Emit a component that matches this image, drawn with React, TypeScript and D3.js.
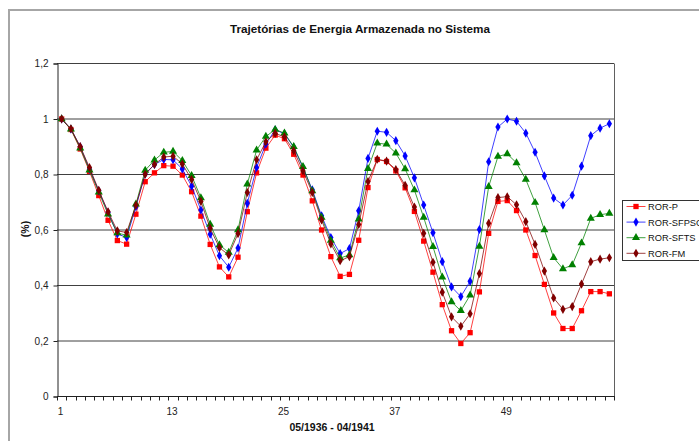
import React, { useRef, useEffect } from "react";
import * as d3 from "d3";

// monthly points 05/1936 - 04/1941
const months = d3.range(1, 61);
const xTickLabels = [1, 13, 25, 37, 49];
const yTicks = [0, 0.2, 0.4, 0.6, 0.8, 1, 1.2];

const rorP = [
  1.0, 0.962, 0.892, 0.811, 0.724, 0.635, 0.562, 0.549, 0.657, 0.774,
  0.806, 0.832, 0.83, 0.798, 0.738, 0.65, 0.548, 0.467, 0.431, 0.502,
  0.666, 0.806, 0.895, 0.942, 0.929, 0.873, 0.798, 0.705, 0.6, 0.504,
  0.433, 0.44, 0.563, 0.753, 0.854, 0.847, 0.813, 0.752, 0.667, 0.56,
  0.448, 0.331, 0.237, 0.191, 0.23, 0.377, 0.588, 0.703, 0.706, 0.67,
  0.6, 0.508, 0.404, 0.301, 0.245, 0.245, 0.309, 0.378, 0.378, 0.37,
];
const rorSfpso = [
  1.0, 0.964, 0.9, 0.819, 0.741, 0.663, 0.586, 0.573, 0.684, 0.802,
  0.836, 0.854, 0.853, 0.82, 0.758, 0.672, 0.585, 0.507, 0.466, 0.535,
  0.696, 0.825, 0.91, 0.961, 0.947, 0.898, 0.825, 0.745, 0.651, 0.573,
  0.515, 0.533, 0.669, 0.858, 0.956, 0.952, 0.922, 0.867, 0.788, 0.69,
  0.59, 0.486, 0.395, 0.36, 0.415, 0.602, 0.846, 0.971, 1.0, 0.992,
  0.949, 0.88, 0.795, 0.715, 0.69, 0.725, 0.83, 0.94, 0.967, 0.983,
];
const rorSfts = [
  1.0, 0.963, 0.895, 0.816, 0.736, 0.657, 0.589, 0.581, 0.693, 0.815,
  0.852, 0.88, 0.883, 0.85, 0.796, 0.716, 0.62, 0.546, 0.519, 0.6,
  0.765, 0.888, 0.937, 0.962, 0.949, 0.9, 0.828, 0.741, 0.645, 0.562,
  0.499, 0.51, 0.639, 0.821, 0.913, 0.909, 0.877, 0.82, 0.744, 0.645,
  0.54, 0.43, 0.341, 0.309, 0.365, 0.541, 0.756, 0.865, 0.874, 0.842,
  0.782, 0.699, 0.6, 0.5, 0.46, 0.474, 0.553, 0.642, 0.655, 0.66,
];
const rorFm = [
  1.0, 0.965, 0.901, 0.825, 0.743, 0.666, 0.597, 0.591, 0.689, 0.801,
  0.836, 0.863, 0.866, 0.838, 0.782, 0.703, 0.606, 0.536, 0.51, 0.587,
  0.735, 0.853, 0.918, 0.948, 0.936, 0.886, 0.813, 0.735, 0.636, 0.55,
  0.489, 0.504, 0.62, 0.775, 0.855, 0.848, 0.818, 0.761, 0.683, 0.588,
  0.484, 0.376, 0.287, 0.253, 0.298, 0.443, 0.624, 0.717, 0.72, 0.691,
  0.63, 0.548, 0.452, 0.355, 0.314, 0.324, 0.405, 0.486, 0.495, 0.5,
];

const seriesNames = ["ROR-P", "ROR-SFPSO", "ROR-SFTS", "ROR-FM"];
const seriesColors = ["#ff0000", "#0000ff", "#008000", "#800000"];
const seriesMarkers = ["square", "diamond", "triangle", "diamond"];

const markerSymbol = (kind: string) => {
  if (kind === "square") return d3.symbol(d3.symbolSquare, 28)();
  if (kind === "triangle") return d3.symbol(d3.symbolTriangle, 28)();
  return d3.symbol(d3.symbolDiamond, 24)();
};

const App = () => {
  const chartRef = useRef<HTMLDivElement>(null);

  useEffect(() => {
    document.body.style.margin = "0";
    const width = 699;
    const height = 441;
    const plot = { left: 57, right: 614, top: 63.5, bottom: 396.5 };
    const font = "'Liberation Sans', Arial, sans-serif";
    const values = [rorP, rorSfpso, rorSfts, rorFm];

    const svg = d3
      .select(chartRef.current)
      .append("svg")
      .attr("width", width)
      .attr("height", height)
      .style("display", "block")
      .style("font-family", font);

    svg.append("rect").attr("width", width).attr("height", height).attr("fill", "#fff");

    // outer chart frame (cut off at the window edge)
    svg
      .append("path")
      .attr("d", `M9,${height + 5}V10H${width + 5}`)
      .attr("fill", "none")
      .attr("stroke", "#a6a6a6")
      .attr("stroke-width", 2);

    const x = d3
      .scaleBand<number>()
      .domain(months)
      .range([plot.left, plot.right])
      .paddingInner(0)
      .paddingOuter(0);
    const cx = (d: number) => (x(d) as number) + x.bandwidth() / 2;

    const y = d3.scaleLinear().domain([0, 1.2]).range([plot.bottom, plot.top]);

    // gridlines
    svg
      .append("g")
      .selectAll("line")
      .data(yTicks.slice(1))
      .enter()
      .append("line")
      .attr("x1", plot.left)
      .attr("x2", plot.right)
      .attr("y1", (d) => y(d))
      .attr("y2", (d) => y(d))
      .attr("stroke", "#404040")
      .attr("stroke-width", 1);

    // right border of plot
    svg
      .append("line")
      .attr("x1", plot.right + 0.5)
      .attr("x2", plot.right + 0.5)
      .attr("y1", plot.top)
      .attr("y2", plot.bottom)
      .attr("stroke", "#606060");

    // y axis
    const yAxis = svg
      .append("g")
      .attr("transform", `translate(${plot.left + 0.5},0)`)
      .call(
        d3
          .axisLeft(y)
          .tickValues(yTicks)
          .tickSize(4)
          .tickPadding(5)
          .tickFormat((d) => String(d).replace(".", ","))
      );
    yAxis.select(".domain").attr("stroke", "#222");
    yAxis.selectAll(".tick line").attr("stroke", "#222");
    yAxis
      .selectAll(".tick text")
      .attr("fill", "#222")
      .style("font-size", "10px")
      .style("font-family", font);

    // x axis: tick marks on category boundaries
    const bounds = months.map((d) => x(d) as number).concat([plot.right]);
    const xAxis = svg.append("g");
    xAxis
      .append("line")
      .attr("x1", plot.left)
      .attr("x2", plot.right + 1)
      .attr("y1", plot.bottom)
      .attr("y2", plot.bottom)
      .attr("stroke", "#222");
    xAxis
      .selectAll(".tk")
      .data(bounds)
      .enter()
      .append("line")
      .attr("class", "tk")
      .attr("x1", (d) => Math.round(d) + 0.5)
      .attr("x2", (d) => Math.round(d) + 0.5)
      .attr("y1", plot.bottom)
      .attr("y2", plot.bottom + 4)
      .attr("stroke", "#222");
    xAxis
      .selectAll(".lbl")
      .data(xTickLabels)
      .enter()
      .append("text")
      .attr("class", "lbl")
      .attr("x", (d) => cx(d) - 1)
      .attr("y", 414.5)
      .attr("text-anchor", "middle")
      .attr("fill", "#222")
      .style("font-size", "10px")
      .text((d) => d);

    // series
    values.forEach((vals, s) => {
      const pts = vals.map((v, i) => [cx(months[i]), y(v)] as [number, number]);
      const g = svg.append("g");
      g.append("path")
        .attr("d", d3.line()(pts))
        .attr("fill", "none")
        .attr("stroke", seriesColors[s])
        .attr("stroke-opacity", 0.75)
        .attr("stroke-width", 1);
      g.selectAll("path.m")
        .data(pts)
        .enter()
        .append("path")
        .attr("class", "m")
        .attr("d", markerSymbol(seriesMarkers[s]))
        .attr("transform", (p) => `translate(${p[0]},${p[1]})`)
        .attr("fill", seriesColors[s]);
    });

    // titles
    svg
      .append("text")
      .attr("x", 360)
      .attr("y", 33)
      .attr("text-anchor", "middle")
      .style("font-size", "11.7px")
      .style("font-weight", "bold")
      .attr("fill", "#111")
      .text("Trajetórias de Energia Armazenada no Sistema");

    svg
      .append("text")
      .attr("x", 332)
      .attr("y", 431)
      .attr("text-anchor", "middle")
      .style("font-size", "10.5px")
      .style("font-weight", "bold")
      .attr("fill", "#111")
      .text("05/1936 - 04/1941");

    svg
      .append("text")
      .attr("transform", "translate(29,229) rotate(-90)")
      .attr("text-anchor", "middle")
      .style("font-size", "10.5px")
      .style("font-weight", "bold")
      .attr("fill", "#111")
      .text("(%)");

    // legend
    const legend = svg.append("g").attr("transform", "translate(622.5,200.5)");
    legend
      .append("rect")
      .attr("width", 120)
      .attr("height", 60)
      .attr("fill", "#fff")
      .attr("stroke", "#333");
    seriesNames.forEach((name, s) => {
      const ly = 6 + s * 15.6;
      legend
        .append("line")
        .attr("x1", 4)
        .attr("x2", 23)
        .attr("y1", ly)
        .attr("y2", ly)
        .attr("stroke", seriesColors[s])
        .attr("stroke-opacity", 0.75);
      legend
        .append("path")
        .attr("d", markerSymbol(seriesMarkers[s]))
        .attr("transform", `translate(13.5,${ly})`)
        .attr("fill", seriesColors[s]);
      legend
        .append("text")
        .attr("x", 25.5)
        .attr("y", ly + 3.5)
        .style("font-size", "9.3px")
        .attr("fill", "#111")
        .text(name);
    });

    return () => {
      if (chartRef.current) chartRef.current.innerHTML = "";
    };
  }, []);

  return <div ref={chartRef}></div>;
};

export default App;
